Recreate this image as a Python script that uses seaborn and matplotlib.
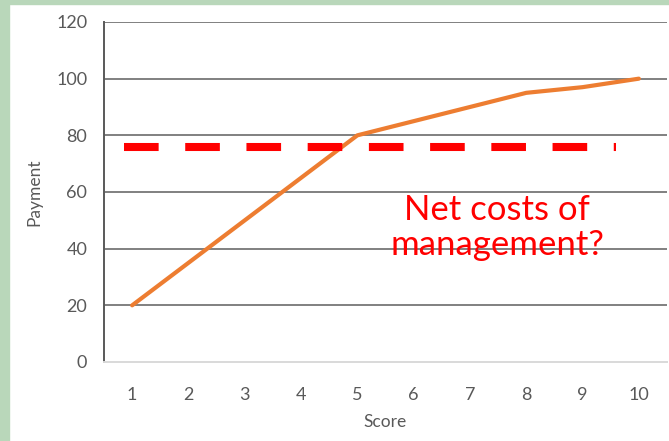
import matplotlib

matplotlib.use("Agg")
import matplotlib.pyplot as plt  # noqa: E402
import pandas as pd  # noqa: E402
import seaborn as sns  # noqa: E402
from matplotlib.patches import Rectangle  # noqa: E402

sns.set_theme(style="white")
plt.rcParams["font.family"] = ["Lato", "DejaVu Sans"]

scores = [1, 2, 3, 4, 5, 6, 7, 8, 9, 10]
payments = [20, 35, 50, 65, 80, 85, 90, 95, 97, 100]
net_cost_level = 76
net_cost_span = [0.85, 9.6]
y_ticks = [0, 20, 40, 60, 80, 100, 120]

df = pd.DataFrame({"Score": scores, "Payment": payments})

fig = plt.figure(figsize=(6.69, 4.41), dpi=100)
ax = fig.add_axes([104 / 669, 1 - 362 / 441, 563 / 669, 340 / 441])

# light green frame on the slide
green = "#b9d7ba"
fig.add_artist(Rectangle((0, 0), 9 / 669, 1, transform=fig.transFigure,
                         color=green, zorder=0))
fig.add_artist(Rectangle((0, 1 - 4 / 441), 1, 4 / 441, transform=fig.transFigure,
                         color=green, zorder=0))

for v in y_ticks[1:]:
    ax.axhline(v, color="#808080", lw=1.4, zorder=1)

sns.lineplot(data=df, x="Score", y="Payment", color="#ed7d31", lw=3,
             ax=ax, zorder=3)

ax.plot(net_cost_span, [net_cost_level] * 2, color="#ff0000", lw=5.8,
        dashes=(4.3, 3.3), solid_capstyle="butt", dash_capstyle="butt", zorder=4)

ax.text(7.48, 47.5, "Net costs of\nmanagement?", color="#ff0000", fontsize=25,
        ha="center", va="center", linespacing=1.12, zorder=5)

ax.set_xlim(0.5, 10.5)
ax.set_ylim(0, 120)
ax.set_xticks(scores)
ax.set_yticks(y_ticks)
ax.tick_params(colors="#595959", labelsize=13, length=0, pad=12)
ax.tick_params(axis="x", pad=18)

for side in ["top", "right"]:
    ax.spines[side].set_visible(False)
ax.spines["left"].set_color("#595959")
ax.spines["left"].set_linewidth(1.4)
ax.spines["bottom"].set_color("#d9d9d9")
ax.spines["bottom"].set_linewidth(1.4)

ax.set_xlabel("Score", color="#595959", fontsize=12.5, labelpad=8)
ax.set_ylabel("Payment", color="#595959", fontsize=12.5, labelpad=10)

fig.savefig("out.png", dpi=100)
